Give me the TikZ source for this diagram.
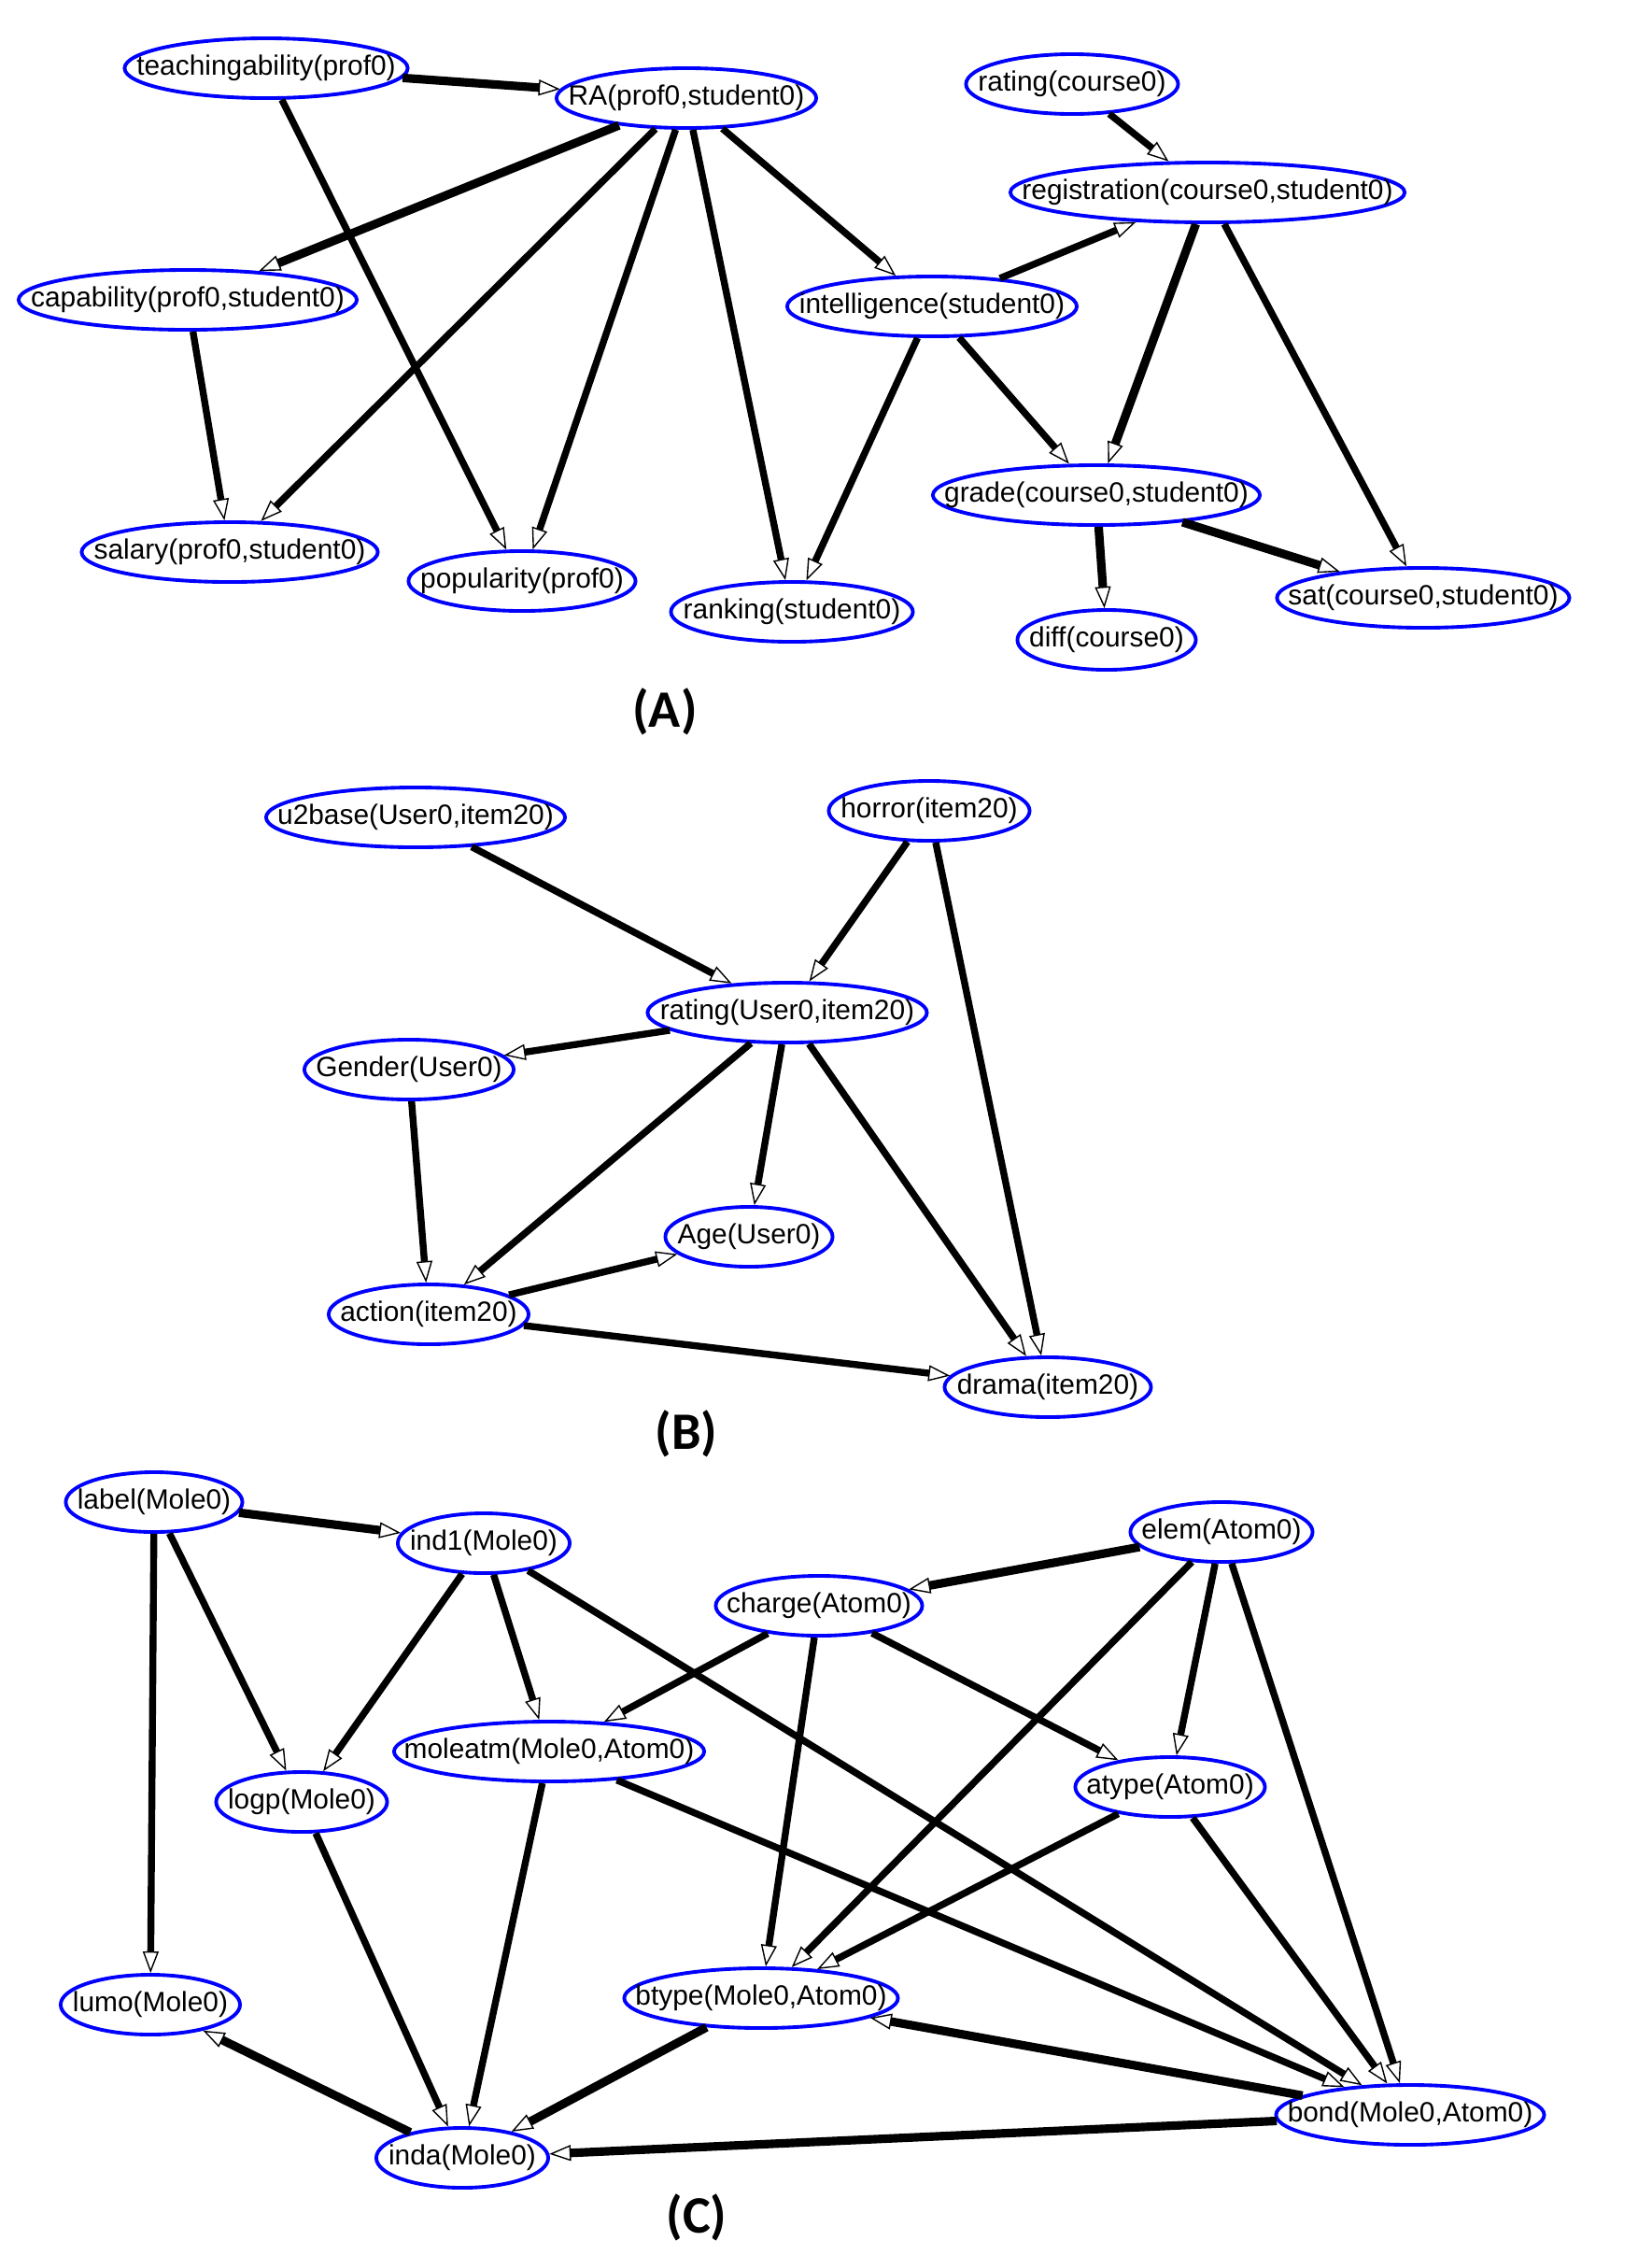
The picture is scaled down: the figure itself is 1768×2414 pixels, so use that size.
\documentclass[tikz,border=0pt]{standalone}
\usepackage{fontspec}
\setmainfont{Liberation Sans}
\newfontfamily\panelfont{Carlito}
\usetikzlibrary{arrows.meta,shapes.geometric}

\begin{document}
\begin{tikzpicture}[x=0.01cm, y=-0.01cm]

          \useasboundingbox (0,0) rectangle (1768,2414);

          \begin{scope}[every node/.style={ellipse, draw=blue, line width=1.1pt, inner sep=0pt, minimum height=0.64cm, font=\fontsize{8.5}{10}\selectfont}]
            \node[minimum width=3.03cm] (1)  at (285,73)   {\makebox[0pt]{\raisebox{-0.45mm}{teachingability(prof0)}}};
            \node[minimum width=2.78cm] (2)  at (735,105)  {\makebox[0pt]{\raisebox{-0.45mm}{RA(prof0,student0)}}};
            \node[minimum width=3.62cm] (3)  at (201,321)  {\makebox[0pt]{\raisebox{-0.45mm}{capability(prof0,student0)}}};
            \node[minimum width=3.17cm] (4)  at (246,591)  {\makebox[0pt]{\raisebox{-0.45mm}{salary(prof0,student0)}}};
            \node[minimum width=2.43cm] (5)  at (559,622)  {\makebox[0pt]{\raisebox{-0.45mm}{popularity(prof0)}}};
            \node[minimum width=2.59cm] (6)  at (848,655)  {\makebox[0pt]{\raisebox{-0.45mm}{ranking(student0)}}};
            \node[minimum width=3.10cm] (7)  at (998,328)  {\makebox[0pt]{\raisebox{-0.45mm}{intelligence(student0)}}};
            \node[minimum width=2.27cm] (8)  at (1148,90)  {\makebox[0pt]{\raisebox{-0.45mm}{rating(course0)}}};
            \node[minimum width=4.22cm] (9)  at (1293,206) {\makebox[0pt]{\raisebox{-0.45mm}{registration(course0,student0)}}};
            \node[minimum width=3.50cm] (10) at (1174,530) {\makebox[0pt]{\raisebox{-0.45mm}{grade(course0,student0)}}};
            \node[minimum width=1.91cm] (11) at (1185,685) {\makebox[0pt]{\raisebox{-0.45mm}{diff(course0)}}};
            \node[minimum width=3.13cm] (12) at (1524,640) {\makebox[0pt]{\raisebox{-0.45mm}{sat(course0,student0)}}};

            \node[minimum width=3.20cm] (13) at (445,875)  {\makebox[0pt]{\raisebox{-0.45mm}{u2base(User0,item20)}}};
            \node[minimum width=2.15cm] (14) at (995,868)  {\makebox[0pt]{\raisebox{-0.45mm}{horror(item20)}}};
            \node[minimum width=2.99cm] (15) at (843,1084) {\makebox[0pt]{\raisebox{-0.45mm}{rating(User0,item20)}}};
            \node[minimum width=2.24cm] (16) at (438,1145) {\makebox[0pt]{\raisebox{-0.45mm}{Gender(User0)}}};
            \node[minimum width=1.79cm] (17) at (802,1324) {\makebox[0pt]{\raisebox{-0.45mm}{Age(User0)}}};
            \node[minimum width=2.14cm] (18) at (459,1407) {\makebox[0pt]{\raisebox{-0.45mm}{action(item20)}}};
            \node[minimum width=2.21cm] (19) at (1122,1485) {\makebox[0pt]{\raisebox{-0.45mm}{drama(item20)}}};

            \node[minimum width=1.89cm] (20) at (165,1608) {\makebox[0pt]{\raisebox{-0.45mm}{label(Mole0)}}};
            \node[minimum width=1.84cm] (21) at (518,1652) {\makebox[0pt]{\raisebox{-0.45mm}{ind1(Mole0)}}};
            \node[minimum width=1.95cm] (22) at (1308,1640) {\makebox[0pt]{\raisebox{-0.45mm}{elem(Atom0)}}};
            \node[minimum width=2.21cm] (23) at (877,1719) {\makebox[0pt]{\raisebox{-0.45mm}{charge(Atom0)}}};
            \node[minimum width=3.32cm] (24) at (588,1875) {\makebox[0pt]{\raisebox{-0.45mm}{moleatm(Mole0,Atom0)}}};
            \node[minimum width=1.83cm] (25) at (323,1929) {\makebox[0pt]{\raisebox{-0.45mm}{logp(Mole0)}}};
            \node[minimum width=2.03cm] (26) at (1253,1913) {\makebox[0pt]{\raisebox{-0.45mm}{atype(Atom0)}}};
            \node[minimum width=1.92cm] (27) at (161,2146) {\makebox[0pt]{\raisebox{-0.45mm}{lumo(Mole0)}}};
            \node[minimum width=2.93cm] (28) at (815,2139) {\makebox[0pt]{\raisebox{-0.45mm}{btype(Mole0,Atom0)}}};
            \node[minimum width=1.84cm] (29) at (495,2310) {\makebox[0pt]{\raisebox{-0.45mm}{inda(Mole0)}}};
            \node[minimum width=2.87cm] (30) at (1510,2264) {\makebox[0pt]{\raisebox{-0.45mm}{bond(Mole0,Atom0)}}};
          \end{scope}

          \begin{scope}[every node/.style={font=\panelfont\bfseries\fontsize{16}{18}\selectfont}]
            \node (A) at (712,762)  {(A)};
            \node (B) at (735,1535) {(B)};
            \node (C) at (746,2374) {(C)};
          \end{scope}

          \begin{scope}[heavy/.style={line width=2.6pt},
                        every edge/.style={draw, line width=2.1pt, -{Triangle[open, length=2.3mm, width=1.7mm, line width=0.4pt 0 1]}}]
            \path (1)  edge[heavy] (2);
            \path (1)  edge (5);
            \path (2)  edge[heavy] (3);
            \path (2)  edge (4);
            \path (2)  edge (5);
            \path (2)  edge (6);
            \path (2)  edge (7);
            \path (3)  edge (4);
            \path (8)  edge (9);
            \path (7)  edge (9);
            \path (7)  edge (6);
            \path (7)  edge (10);
            \path (9)  edge[heavy] (10);
            \path (9)  edge (12);
            \path (10) edge[heavy] (11);
            \path (10) edge[heavy] (12);

            \path (13) edge (15);
            \path (14) edge (15);
            \path (14) edge (19);
            \path (15) edge (16);
            \path (15) edge (18);
            \path (15) edge (17);
            \path (15) edge (19);
            \path (16) edge (18);
            \path (18) edge (17);
            \path (18) edge (19);

            \path (20) edge[heavy] (21);
            \path (20) edge (27);
            \path (20) edge (25);
            \path (21) edge (25);
            \path (21) edge (24);
            \path (21) edge (30);
            \path (22) edge[heavy] (23);
            \path (22) edge (28);
            \path (22) edge (26);
            \path (22) edge (30);
            \path (23) edge (24);
            \path (23) edge (28);
            \path (23) edge (26);
            \path (24) edge (29);
            \path (24) edge (30);
            \path (25) edge (29);
            \path (26) edge (28);
            \path (26) edge (30);
            \path (29) edge[heavy] (27);
            \path (28) edge[heavy] (29);
            \path (30) edge[heavy] (28);
            \path (30) edge[heavy] (29);
          \end{scope}

        \end{tikzpicture}
\end{document}
